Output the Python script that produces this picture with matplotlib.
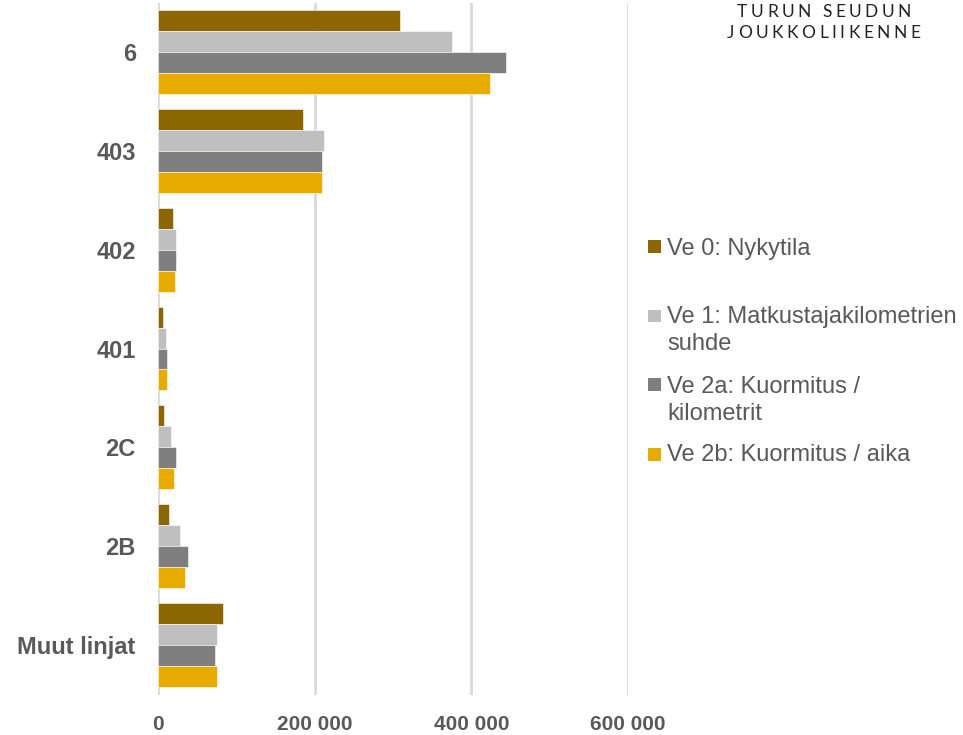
import matplotlib
matplotlib.use("Agg")
import matplotlib.pyplot as plt
import numpy as np
from matplotlib.patches import Rectangle

plt.rcParams["font.family"] = ["Liberation Sans", "DejaVu Sans"]

# Bus lines, top to bottom
LINES = ["6", "403", "402", "401", "2C", "2B", "Muut linjat"]

SERIES = [
    "Ve 0: Nykytila",
    "Ve 1: Matkustajakilometrien\nsuhde",
    "Ve 2a: Kuormitus /\nkilometrit",
    "Ve 2b: Kuormitus / aika",
]
VE0 = [308800, 184700, 18800, 6000, 7700, 14100, 82800]
VE1 = [375800, 211500, 22600, 9800, 17000, 28200, 75500]
VE2A = [444400, 209900, 22600, 11500, 22600, 38000, 72500]
VE2B = [423600, 209900, 21800, 11100, 20500, 34100, 75500]

X_TICKS = [0, 200000, 400000, 600000]
X_TICK_LABELS = ["0", "200 000", "400 000", "600 000"]

COLORS = ["#8C6600", "#BFBFBF", "#7F7F7F", "#E8AC00"]
TEXT_GRAY = "#595959"
GRID = "#D9D9D9"

W, H = 963, 735
fig = plt.figure(figsize=(W / 100, H / 100), dpi=100)
ax = fig.add_axes([158 / W, 1 - 694.5 / H, (628 - 158) / W, 692 / H])

y = np.arange(len(LINES))
bar_h = 0.212
for i, (vals, color) in enumerate(zip([VE0, VE1, VE2A, VE2B], COLORS)):
    ax.barh(y + (i - 1.5) * bar_h, vals, height=bar_h, color=color,
            edgecolor="white", linewidth=0.4, zorder=3)

ax.set_ylim(6.5, -0.5)
ax.set_xlim(0, 600000)
ax.set_yticks(y)
ax.set_yticklabels(LINES, fontsize=17, fontweight="bold", color=TEXT_GRAY)
ax.set_xticks(X_TICKS)
ax.set_xticklabels(X_TICK_LABELS, fontsize=15, fontweight="bold", color=TEXT_GRAY)
ax.tick_params(axis="y", length=0, pad=16)
ax.tick_params(axis="x", length=0, pad=15)
for s in ax.spines.values():
    s.set_visible(False)
ax.grid(axis="x", color=GRID, linewidth=2, zorder=0)
ax.set_axisbelow(True)

# Legend drawn by hand to follow the original spacing
text_rows = [247, 315, 385, 453]
marker_rows = [246, 316, 384, 454]
for label, color, yt, ym in zip(SERIES, COLORS, text_rows, marker_rows):
    fig.patches.append(Rectangle((648 / W, 1 - (ym + 6.5) / H), 13 / W, 13 / H,
                                 transform=fig.transFigure, facecolor=color,
                                 edgecolor="none"))
    fig.text(667 / W, 1 - (yt - 9) / H, label, fontsize=17, color=TEXT_GRAY,
             ha="left", va="top", linespacing=1.32)

# Logo text with wide letter spacing
renderer = fig.canvas.get_renderer()


def tracked_text(x_px, y_px, s, track_px, size):
    x = x_px
    for ch in s:
        t = fig.text(x / W, 1 - y_px / H, ch, fontsize=size, color="#222222",
                     family=["Lato", "DejaVu Sans"], ha="left", va="center")
        w = t.get_window_extent(renderer).width if ch != " " else size * 0.35
        x += w + track_px


tracked_text(737, 12, "TURUN SEUDUN", 3.5, 12.5)
tracked_text(727, 33, "JOUKKOLIIKENNE", 3.5, 12.5)

fig.savefig("out.png", dpi=100)
